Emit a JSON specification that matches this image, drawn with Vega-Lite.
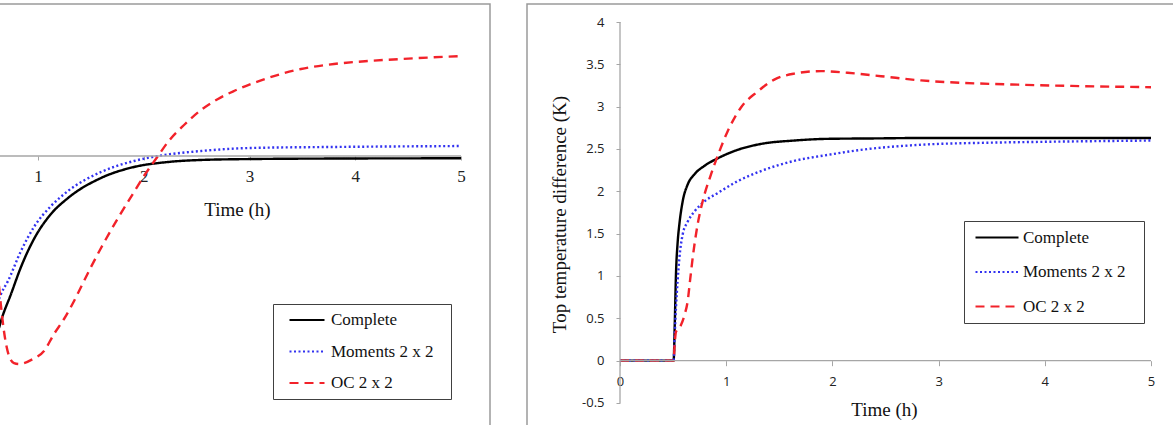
{
  "$schema": "https://vega.github.io/schema/vega-lite/v6.json",
  "padding": {"left": -2, "top": 3, "right": -7, "bottom": -4},
  "bounds": "flush",
  "spacing": 37,
  "background": "white",
  "config": {"view": {"stroke": "#9a9a9a", "strokeWidth": 1.5}},
  "datasets": {
    "left": [
      {"series": "Complete", "t": 0.631, "v": -2.036},
      {"series": "Complete", "t": 0.650, "v": -1.953},
      {"series": "Complete", "t": 0.745, "v": -1.633},
      {"series": "Complete", "t": 0.839, "v": -1.314},
      {"series": "Complete", "t": 0.962, "v": -0.982},
      {"series": "Complete", "t": 1.123, "v": -0.686},
      {"series": "Complete", "t": 1.284, "v": -0.497},
      {"series": "Complete", "t": 1.596, "v": -0.260},
      {"series": "Complete", "t": 1.908, "v": -0.130},
      {"series": "Complete", "t": 2.229, "v": -0.071},
      {"series": "Complete", "t": 2.541, "v": -0.047},
      {"series": "Complete", "t": 3.014, "v": -0.036},
      {"series": "Complete", "t": 3.799, "v": -0.030},
      {"series": "Complete", "t": 5.0, "v": -0.027},
      {"series": "Moments 2 x 2", "t": 0.631, "v": -1.692},
      {"series": "Moments 2 x 2", "t": 0.650, "v": -1.633},
      {"series": "Moments 2 x 2", "t": 0.716, "v": -1.479},
      {"series": "Moments 2 x 2", "t": 0.839, "v": -1.124},
      {"series": "Moments 2 x 2", "t": 0.962, "v": -0.840},
      {"series": "Moments 2 x 2", "t": 1.123, "v": -0.592},
      {"series": "Moments 2 x 2", "t": 1.284, "v": -0.414},
      {"series": "Moments 2 x 2", "t": 1.596, "v": -0.189},
      {"series": "Moments 2 x 2", "t": 1.908, "v": -0.059},
      {"series": "Moments 2 x 2", "t": 2.135, "v": 0.0},
      {"series": "Moments 2 x 2", "t": 2.541, "v": 0.059},
      {"series": "Moments 2 x 2", "t": 3.014, "v": 0.095},
      {"series": "Moments 2 x 2", "t": 3.799, "v": 0.107},
      {"series": "Moments 2 x 2", "t": 5.0, "v": 0.118},
      {"series": "OC 2 x 2", "t": 0.631, "v": -1.538},
      {"series": "OC 2 x 2", "t": 0.650, "v": -1.775},
      {"series": "OC 2 x 2", "t": 0.678, "v": -2.071},
      {"series": "OC 2 x 2", "t": 0.726, "v": -2.367},
      {"series": "OC 2 x 2", "t": 0.773, "v": -2.450},
      {"series": "OC 2 x 2", "t": 0.820, "v": -2.462},
      {"series": "OC 2 x 2", "t": 0.953, "v": -2.402},
      {"series": "OC 2 x 2", "t": 1.057, "v": -2.308},
      {"series": "OC 2 x 2", "t": 1.151, "v": -2.107},
      {"series": "OC 2 x 2", "t": 1.246, "v": -1.929},
      {"series": "OC 2 x 2", "t": 1.331, "v": -1.740},
      {"series": "OC 2 x 2", "t": 1.407, "v": -1.550},
      {"series": "OC 2 x 2", "t": 1.501, "v": -1.314},
      {"series": "OC 2 x 2", "t": 1.596, "v": -1.089},
      {"series": "OC 2 x 2", "t": 1.757, "v": -0.734},
      {"series": "OC 2 x 2", "t": 1.908, "v": -0.426},
      {"series": "OC 2 x 2", "t": 2.002, "v": -0.237},
      {"series": "OC 2 x 2", "t": 2.135, "v": 0.0},
      {"series": "OC 2 x 2", "t": 2.229, "v": 0.166},
      {"series": "OC 2 x 2", "t": 2.381, "v": 0.367},
      {"series": "OC 2 x 2", "t": 2.541, "v": 0.544},
      {"series": "OC 2 x 2", "t": 2.702, "v": 0.675},
      {"series": "OC 2 x 2", "t": 2.853, "v": 0.769},
      {"series": "OC 2 x 2", "t": 3.175, "v": 0.923},
      {"series": "OC 2 x 2", "t": 3.487, "v": 1.030},
      {"series": "OC 2 x 2", "t": 3.799, "v": 1.089},
      {"series": "OC 2 x 2", "t": 4.121, "v": 1.124},
      {"series": "OC 2 x 2", "t": 4.433, "v": 1.148},
      {"series": "OC 2 x 2", "t": 5.0, "v": 1.183}
    ],
    "right": [
      {"series": "Complete", "t": 0, "v": 0},
      {"series": "Complete", "t": 0.25, "v": 0},
      {"series": "Complete", "t": 0.505, "v": 0},
      {"series": "Complete", "t": 0.515, "v": 0.4},
      {"series": "Complete", "t": 0.527, "v": 1.02},
      {"series": "Complete", "t": 0.543, "v": 1.4},
      {"series": "Complete", "t": 0.559, "v": 1.61},
      {"series": "Complete", "t": 0.590, "v": 1.88},
      {"series": "Complete", "t": 0.637, "v": 2.08},
      {"series": "Complete", "t": 0.700, "v": 2.20},
      {"series": "Complete", "t": 0.794, "v": 2.30},
      {"series": "Complete", "t": 0.920, "v": 2.39},
      {"series": "Complete", "t": 1.108, "v": 2.49},
      {"series": "Complete", "t": 1.328, "v": 2.56},
      {"series": "Complete", "t": 1.641, "v": 2.60},
      {"series": "Complete", "t": 1.956, "v": 2.62},
      {"series": "Complete", "t": 2.4, "v": 2.625},
      {"series": "Complete", "t": 2.834, "v": 2.63},
      {"series": "Complete", "t": 3.5, "v": 2.63},
      {"series": "Complete", "t": 4.0, "v": 2.63},
      {"series": "Complete", "t": 5.0, "v": 2.63},
      {"series": "Moments 2 x 2", "t": 0, "v": 0},
      {"series": "Moments 2 x 2", "t": 0.25, "v": 0},
      {"series": "Moments 2 x 2", "t": 0.505, "v": 0},
      {"series": "Moments 2 x 2", "t": 0.515, "v": 0.3},
      {"series": "Moments 2 x 2", "t": 0.527, "v": 0.62},
      {"series": "Moments 2 x 2", "t": 0.543, "v": 0.95},
      {"series": "Moments 2 x 2", "t": 0.559, "v": 1.21},
      {"series": "Moments 2 x 2", "t": 0.590, "v": 1.49},
      {"series": "Moments 2 x 2", "t": 0.637, "v": 1.64},
      {"series": "Moments 2 x 2", "t": 0.700, "v": 1.76},
      {"series": "Moments 2 x 2", "t": 0.794, "v": 1.88},
      {"series": "Moments 2 x 2", "t": 0.920, "v": 1.98},
      {"series": "Moments 2 x 2", "t": 1.108, "v": 2.12},
      {"series": "Moments 2 x 2", "t": 1.328, "v": 2.24},
      {"series": "Moments 2 x 2", "t": 1.641, "v": 2.36},
      {"series": "Moments 2 x 2", "t": 1.956, "v": 2.43},
      {"series": "Moments 2 x 2", "t": 2.269, "v": 2.49},
      {"series": "Moments 2 x 2", "t": 2.834, "v": 2.55},
      {"series": "Moments 2 x 2", "t": 3.5, "v": 2.575},
      {"series": "Moments 2 x 2", "t": 4.0, "v": 2.585},
      {"series": "Moments 2 x 2", "t": 5.0, "v": 2.60},
      {"series": "OC 2 x 2", "t": 0, "v": 0},
      {"series": "OC 2 x 2", "t": 0.25, "v": 0},
      {"series": "OC 2 x 2", "t": 0.505, "v": 0},
      {"series": "OC 2 x 2", "t": 0.515, "v": 0.2},
      {"series": "OC 2 x 2", "t": 0.527, "v": 0.34},
      {"series": "OC 2 x 2", "t": 0.574, "v": 0.42},
      {"series": "OC 2 x 2", "t": 0.610, "v": 0.55},
      {"series": "OC 2 x 2", "t": 0.637, "v": 0.70},
      {"series": "OC 2 x 2", "t": 0.660, "v": 0.95},
      {"series": "OC 2 x 2", "t": 0.684, "v": 1.21},
      {"series": "OC 2 x 2", "t": 0.731, "v": 1.61},
      {"series": "OC 2 x 2", "t": 0.778, "v": 1.88},
      {"series": "OC 2 x 2", "t": 0.857, "v": 2.20},
      {"series": "OC 2 x 2", "t": 0.935, "v": 2.47},
      {"series": "OC 2 x 2", "t": 1.014, "v": 2.71},
      {"series": "OC 2 x 2", "t": 1.139, "v": 2.99},
      {"series": "OC 2 x 2", "t": 1.297, "v": 3.18},
      {"series": "OC 2 x 2", "t": 1.453, "v": 3.32},
      {"series": "OC 2 x 2", "t": 1.641, "v": 3.39},
      {"series": "OC 2 x 2", "t": 1.893, "v": 3.42},
      {"series": "OC 2 x 2", "t": 2.144, "v": 3.40},
      {"series": "OC 2 x 2", "t": 2.458, "v": 3.36},
      {"series": "OC 2 x 2", "t": 2.834, "v": 3.31},
      {"series": "OC 2 x 2", "t": 3.25, "v": 3.28},
      {"series": "OC 2 x 2", "t": 3.75, "v": 3.26},
      {"series": "OC 2 x 2", "t": 4.25, "v": 3.245},
      {"series": "OC 2 x 2", "t": 5.0, "v": 3.23}
    ]
  },
  "resolve": {
    "scale": {"x": "independent", "y": "independent", "color": "independent", "strokeDash": "independent"},
    "legend": {"color": "independent", "strokeDash": "independent"}
  },
  "hconcat": [
    {
      "width": 491,
      "height": 424,
      "layer": [
        {
          "data": {"name": "left"},
          "mark": {"type": "line", "interpolate": "monotone", "clip": true, "strokeWidth": 2.4},
          "encoding": {
            "x": {
              "field": "t", "type": "quantitative",
              "scale": {"domain": [0.6312, 5.2742], "nice": false, "zero": false},
              "axis": {
                "values": [1, 2, 3, 4, 5], "domain": false, "grid": false, "offset": -272,
                "tickColor": "#a6a6a6", "tickSize": 4, "labelFlush": false, "labelOverlap": false,
                "labelExpr": "'' + datum.value",
                "labelFont": "Liberation Serif", "labelFontSize": 17, "labelColor": "#222222", "labelPadding": 8,
                "title": "Time (h)", "titleFont": "Liberation Serif", "titleFontSize": 19, "titleFontWeight": "normal",
                "titleColor": "#111111", "titleX": 238, "titleY": 59, "titleBaseline": "alphabetic", "titleAlign": "center"
              }
            },
            "y": {"field": "v", "type": "quantitative", "scale": {"domain": [-3.2189, 1.7988], "nice": false, "zero": false}, "axis": null},
            "color": {
              "field": "series", "type": "nominal",
              "scale": {"domain": ["Complete", "Moments 2 x 2", "OC 2 x 2"], "range": ["#000000", "#3232f0", "#f2222a"]},
              "legend": {
                "orient": "none", "legendX": 274, "legendY": 300,
                "title": "\u00a0", "titleOrient": "right", "titlePadding": 10, "titleFontSize": 17,
                "symbolType": "stroke", "symbolSize": 1225, "symbolStrokeWidth": 2.2,
                "labelFont": "Liberation Serif", "labelFontSize": 17, "labelColor": "#111111", "labelOffset": 5,
                "clipHeight": 16, "rowPadding": 14.5, "padding": 8, "symbolOffset": 7,
                "strokeColor": "#404040", "fillColor": "white"
              }
            },
            "strokeDash": {
              "field": "series", "type": "nominal",
              "scale": {"domain": ["Complete", "Moments 2 x 2", "OC 2 x 2"], "range": [[1, 0], [2, 2.5], [9, 6]]},
              "legend": {
                "orient": "none", "legendX": 274, "legendY": 300,
                "title": "\u00a0", "titleOrient": "right", "titlePadding": 10, "titleFontSize": 17,
                "symbolType": "stroke", "symbolSize": 1225, "symbolStrokeWidth": 2.2,
                "labelFont": "Liberation Serif", "labelFontSize": 17, "labelColor": "#111111", "labelOffset": 5,
                "clipHeight": 16, "rowPadding": 14.5, "padding": 8, "symbolOffset": 7,
                "strokeColor": "#404040", "fillColor": "white"
              }
            }
          }
        },
        {
          "data": {"values": [{}]},
          "mark": {"type": "rule", "color": "#a6a6a6", "strokeWidth": 1.3, "clip": true},
          "encoding": {
            "x": {"datum": 0, "type": "quantitative", "title": null},
            "x2": {"datum": 5},
            "y": {"datum": 0, "type": "quantitative", "axis": null}
          }
        }
      ]
    },
    {
      "width": 652,
      "height": 424,
      "layer": [
        {
          "data": {"name": "right"},
          "mark": {"type": "line", "interpolate": "monotone", "clip": true, "strokeWidth": 2.4},
          "encoding": {
            "x": {
              "field": "t", "type": "quantitative",
              "scale": {"domain": [-0.8757, 5.2637], "nice": false, "zero": false},
              "axis": {
                "values": [0, 1, 2, 3, 4, 5], "domain": false, "grid": false, "offset": -67.3,
                "tickColor": "#a6a6a6", "tickSize": 5, "labelFlush": false, "labelOverlap": false,
                "labelFont": "Open Sans", "labelFontSize": 13, "labelColor": "#222222", "labelPadding": 10,
                "labelExpr": "'' + datum.value",
                "title": "Time (h)", "titleFont": "Liberation Serif", "titleFontSize": 19, "titleFontWeight": "normal",
                "titleColor": "#111111", "titleX": 357, "titleY": 55, "titleBaseline": "alphabetic", "titleAlign": "center"
              }
            },
            "y": {
              "field": "v", "type": "quantitative",
              "scale": {"domain": [-0.7953, 4.2126], "nice": false, "zero": false},
              "axis": {
                "values": [-0.5, 0, 0.5, 1, 1.5, 2, 2.5, 3, 3.5, 4], "domain": false, "grid": false, "offset": -93,
                "tickColor": "#a6a6a6", "tickSize": 4, "labelFlush": false, "labelOverlap": false,
                "labelFont": "Open Sans", "labelFontSize": 13, "labelColor": "#222222", "labelPadding": 12,
                "labelExpr": "'' + datum.value",
                "title": "Top temperature difference (K)", "titleFont": "Liberation Serif", "titleFontSize": 19,
                "titleFontWeight": "normal", "titleColor": "#111111", "titleAngle": 270,
                "titleX": -55, "titleY": 210, "titleBaseline": "alphabetic", "titleAlign": "center"
              }
            },
            "color": {
              "field": "series", "type": "nominal",
              "scale": {"domain": ["Complete", "Moments 2 x 2", "OC 2 x 2"], "range": ["#000000", "#3232f0", "#f2222a"]},
              "legend": {
                "orient": "none", "legendX": 437, "legendY": 217,
                "title": "\u00a0", "titleOrient": "right", "titlePadding": 11, "titleFontSize": 17,
                "symbolType": "stroke", "symbolSize": 1849, "symbolStrokeWidth": 2.2,
                "labelFont": "Liberation Serif", "labelFontSize": 17, "labelColor": "#111111", "labelOffset": 3,
                "clipHeight": 17, "rowPadding": 16.5, "padding": 8, "symbolOffset": 2,
                "strokeColor": "#404040", "fillColor": "white"
              }
            },
            "strokeDash": {
              "field": "series", "type": "nominal",
              "scale": {"domain": ["Complete", "Moments 2 x 2", "OC 2 x 2"], "range": [[1, 0], [2, 2.5], [9, 6]]},
              "legend": {
                "orient": "none", "legendX": 437, "legendY": 217,
                "title": "\u00a0", "titleOrient": "right", "titlePadding": 11, "titleFontSize": 17,
                "symbolType": "stroke", "symbolSize": 1849, "symbolStrokeWidth": 2.2,
                "labelFont": "Liberation Serif", "labelFontSize": 17, "labelColor": "#111111", "labelOffset": 3,
                "clipHeight": 17, "rowPadding": 16.5, "padding": 8, "symbolOffset": 2,
                "strokeColor": "#404040", "fillColor": "white"
              }
            }
          }
        },
        {
          "data": {"values": [{}]},
          "mark": {"type": "rule", "color": "#a6a6a6", "strokeWidth": 1.3},
          "encoding": {
            "x": {"datum": 0, "type": "quantitative", "title": null},
            "x2": {"datum": 5},
            "y": {"datum": 0, "type": "quantitative", "title": null}
          }
        },
        {
          "data": {"values": [{}]},
          "mark": {"type": "rule", "color": "#a6a6a6", "strokeWidth": 1.3},
          "encoding": {
            "x": {"datum": 0, "type": "quantitative", "title": null},
            "y": {"datum": -0.5, "type": "quantitative", "title": null},
            "y2": {"datum": 4}
          }
        }
      ]
    }
  ]
}
